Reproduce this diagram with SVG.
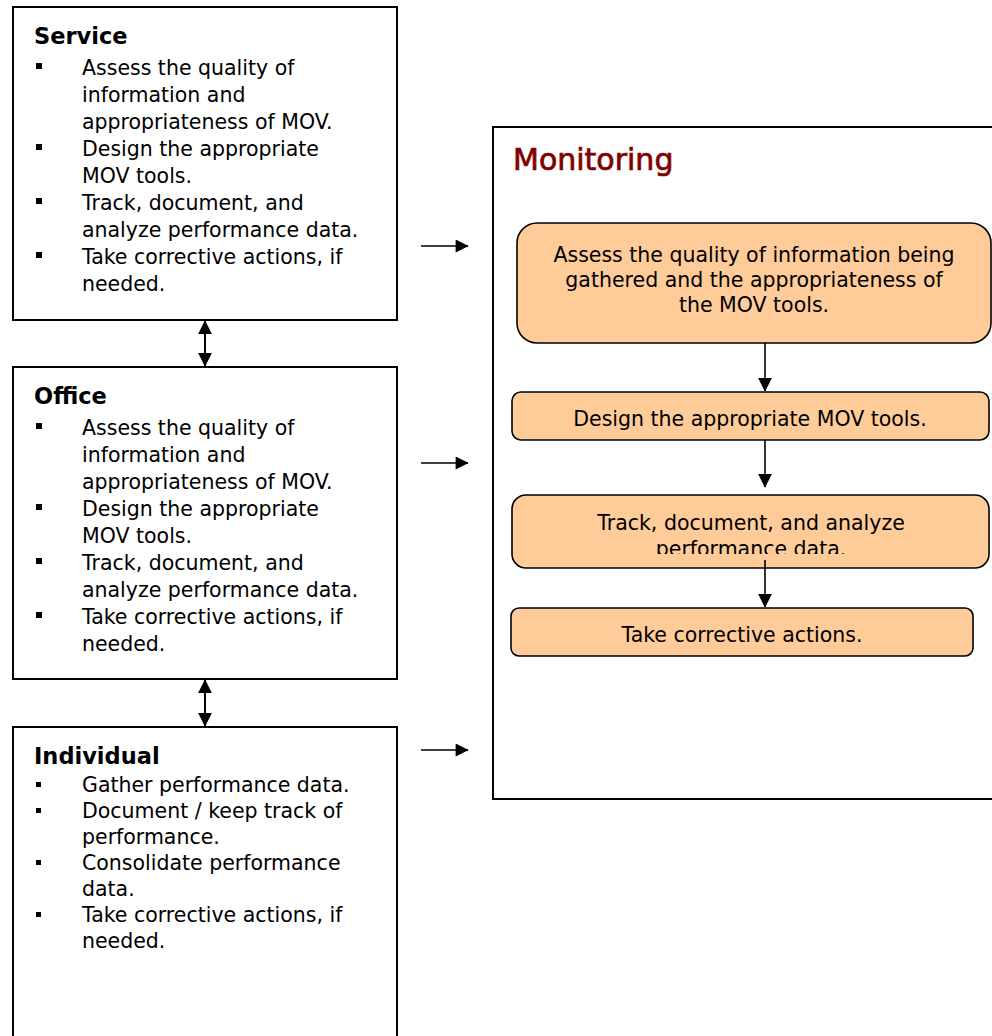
<svg xmlns="http://www.w3.org/2000/svg" width="992" height="1036" viewBox="0 0 992 1036">
  <style>
    .frame { fill: #ffffff; stroke: #000000; stroke-width: 2; }
    .step { fill: #FFCC99; stroke: #000000; stroke-width: 1.6; }
    .hd { font-family: "DejaVu Sans", "Liberation Sans", sans-serif; font-size: 22.5px; font-weight: bold; fill: #000; }
    .tx { font-family: "DejaVu Sans", "Liberation Sans", sans-serif; font-size: 20.5px; fill: #000; }
    .st { font-family: "DejaVu Sans", "Liberation Sans", sans-serif; font-size: 20.5px; fill: #000; text-anchor: middle; }
    .ttl { font-family: "DejaVu Sans", "Liberation Sans", sans-serif; font-size: 30px; fill: #800000; stroke: #800000; stroke-width: 0.7; }
    .blt { fill: #000; }
    .conn { stroke: #000; fill: none; }
  </style>
  <defs>
    <marker id="head" viewBox="0 0 10 10" refX="9.5" refY="5" markerUnits="userSpaceOnUse" markerWidth="14" markerHeight="16" orient="auto-start-reverse">
      <path d="M0,0 L10,5 L0,10 z" fill="#000"/>
    </marker>
    <marker id="headSm" viewBox="0 0 10 10" refX="9.5" refY="5" markerUnits="userSpaceOnUse" markerWidth="14" markerHeight="13" orient="auto-start-reverse">
      <path d="M0,0 L10,5 L0,10 z" fill="#000"/>
    </marker>
    <clipPath id="clipTrack">
      <rect x="512" y="495" width="477" height="59"/>
    </clipPath>
  </defs>

  <!-- Service level -->
  <g id="service">
    <rect class="frame" x="13" y="7" width="384" height="313"/>
    <text class="hd" x="34" y="44">Service</text>
    <rect class="blt" x="36" y="63" width="6" height="6"/>
    <rect class="blt" x="36" y="144" width="6" height="6"/>
    <rect class="blt" x="36" y="198" width="6" height="6"/>
    <rect class="blt" x="36" y="252" width="6" height="6"/>
    <text class="tx" x="82" y="75">Assess the quality of</text>
    <text class="tx" x="82" y="102">information and</text>
    <text class="tx" x="82" y="129">appropriateness of MOV.</text>
    <text class="tx" x="82" y="156">Design the appropriate</text>
    <text class="tx" x="82" y="183">MOV tools.</text>
    <text class="tx" x="82" y="210">Track, document, and</text>
    <text class="tx" x="82" y="237">analyze performance data.</text>
    <text class="tx" x="82" y="264">Take corrective actions, if</text>
    <text class="tx" x="82" y="291">needed.</text>
  </g>

  <!-- Office level -->
  <g id="office">
    <rect class="frame" x="13" y="367" width="384" height="312"/>
    <text class="hd" x="34" y="404">Office</text>
    <rect class="blt" x="36" y="423" width="6" height="6"/>
    <rect class="blt" x="36" y="504" width="6" height="6"/>
    <rect class="blt" x="36" y="558" width="6" height="6"/>
    <rect class="blt" x="36" y="612" width="6" height="6"/>
    <text class="tx" x="82" y="435">Assess the quality of</text>
    <text class="tx" x="82" y="462">information and</text>
    <text class="tx" x="82" y="489">appropriateness of MOV.</text>
    <text class="tx" x="82" y="516">Design the appropriate</text>
    <text class="tx" x="82" y="543">MOV tools.</text>
    <text class="tx" x="82" y="570">Track, document, and</text>
    <text class="tx" x="82" y="597">analyze performance data.</text>
    <text class="tx" x="82" y="624">Take corrective actions, if</text>
    <text class="tx" x="82" y="651">needed.</text>
  </g>

  <!-- Individual level -->
  <g id="individual">
    <rect class="frame" x="13" y="727" width="384" height="320"/>
    <text class="hd" x="34" y="764">Individual</text>
    <rect class="blt" x="36" y="782" width="5" height="5"/>
    <rect class="blt" x="36" y="808" width="5" height="5"/>
    <rect class="blt" x="36" y="860" width="5" height="5"/>
    <rect class="blt" x="36" y="912" width="5" height="5"/>
    <text class="tx" x="82" y="792">Gather performance data.</text>
    <text class="tx" x="82" y="818">Document / keep track of</text>
    <text class="tx" x="82" y="844">performance.</text>
    <text class="tx" x="82" y="870">Consolidate performance</text>
    <text class="tx" x="82" y="896">data.</text>
    <text class="tx" x="82" y="922">Take corrective actions, if</text>
    <text class="tx" x="82" y="948">needed.</text>
  </g>

  <!-- Monitoring panel -->
  <g id="monitoring">
    <rect class="frame" x="493" y="127" width="520" height="672"/>
    <text class="ttl" x="513" y="170">Monitoring</text>
  </g>

  <g id="step-assess">
    <rect class="step" x="517" y="223" width="474" height="120" rx="20" ry="20"/>
    <text class="st" x="754" y="262">Assess the quality of information being</text>
    <text class="st" x="754" y="287">gathered and the appropriateness of</text>
    <text class="st" x="754" y="312">the MOV tools.</text>
  </g>

  <g id="step-design">
    <rect class="step" x="512" y="392" width="477" height="48" rx="9" ry="9"/>
    <text class="st" x="750" y="426">Design the appropriate MOV tools.</text>
  </g>

  <g id="step-track">
    <rect class="step" x="512" y="495" width="477" height="73" rx="14" ry="14"/>
    <g clip-path="url(#clipTrack)">
      <text class="st" x="751" y="530">Track, document, and analyze</text>
      <text class="st" x="751" y="556">performance data.</text>
    </g>
  </g>

  <g id="step-correct">
    <rect class="step" x="511" y="608" width="462" height="48" rx="8" ry="8"/>
    <text class="st" x="742" y="642">Take corrective actions.</text>
  </g>

  <!-- Connectors -->
  <g id="connectors">
    <line class="conn" x1="205" y1="321" x2="205" y2="366" stroke-width="2" marker-start="url(#head)" marker-end="url(#head)"/>
    <line class="conn" x1="205" y1="680" x2="205" y2="726" stroke-width="2" marker-start="url(#head)" marker-end="url(#head)"/>
    <line class="conn" x1="421" y1="246" x2="468" y2="246" stroke-width="1.6" marker-end="url(#headSm)"/>
    <line class="conn" x1="421" y1="463" x2="468" y2="463" stroke-width="1.6" marker-end="url(#headSm)"/>
    <line class="conn" x1="421" y1="750" x2="468" y2="750" stroke-width="1.6" marker-end="url(#headSm)"/>
    <line class="conn" x1="765" y1="343" x2="765" y2="391" stroke-width="1.6" marker-end="url(#head)"/>
    <line class="conn" x1="765" y1="440" x2="765" y2="487" stroke-width="1.6" marker-end="url(#head)"/>
    <line class="conn" x1="765" y1="560" x2="765" y2="607" stroke-width="1.6" marker-end="url(#head)"/>
  </g>
</svg>
